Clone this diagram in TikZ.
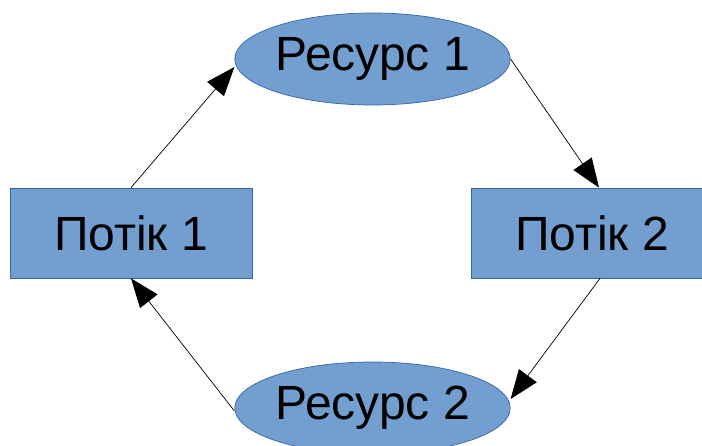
\documentclass[tikz,border=0pt]{standalone}
\usepackage{fontspec}
\setmainfont{Liberation Sans}
\usetikzlibrary{shapes.geometric,arrows.meta}
\definecolor{boxfill}{HTML}{729FCF}
\definecolor{boxline}{HTML}{3465A4}

\begin{document}
\begin{tikzpicture}[x=1pt,y=-1pt,->,>={Triangle[length=29pt,width=22pt]},line width=0.7pt,
  font=\fontsize{48}{56}\selectfont]
\useasboundingbox (0,0) rectangle (702,446);
\node[ellipse,fill=boxfill,draw=boxline,inner sep=0pt,minimum width=273pt,minimum height=92pt] (R1) at (372.5,59) {Ресурс 1};
\node[ellipse,fill=boxfill,draw=boxline,inner sep=0pt,minimum width=273pt,minimum height=92pt] (R2) at (372.5,408) {Ресурс 2};
\node[rectangle,fill=boxfill,draw=boxline,minimum width=242pt,minimum height=90pt] (P1) at (131,233) {Потік 1};
\node[rectangle,fill=boxfill,draw=boxline,minimum width=242pt,minimum height=90pt] (P2) at (592,233) {Потік 2};
\draw (P1.north) -- ([yshift=-8pt]R1.west);
\draw (R1.east) -- ([xshift=7pt]P2.north);
\draw ([xshift=8pt]P2.south) -- ([yshift=9pt]R2.east);
\draw ([yshift=-3pt]R2.west) -- (P1.south);
\end{tikzpicture}
\end{document}
